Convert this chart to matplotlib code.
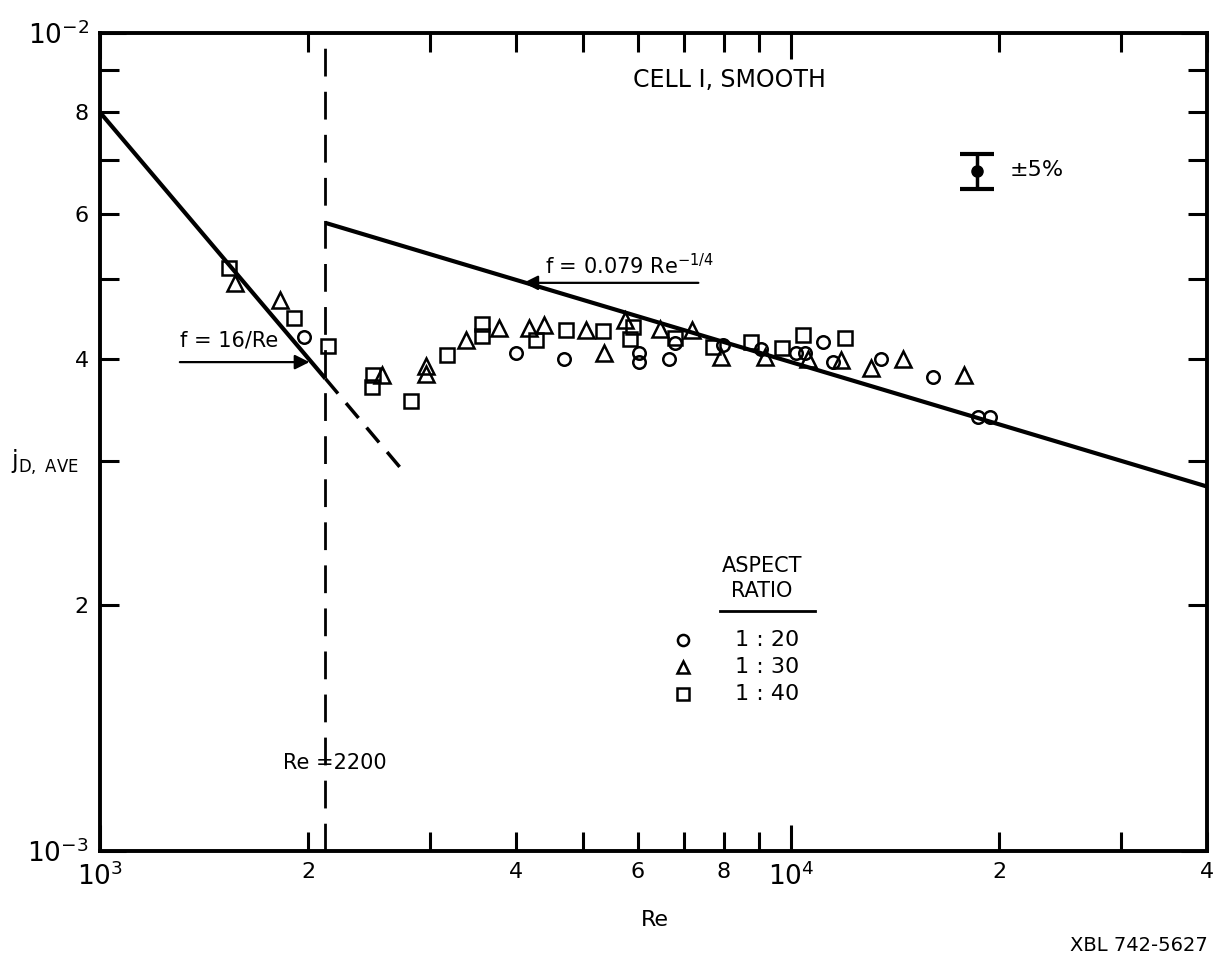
import matplotlib
matplotlib.use("Agg")
import matplotlib.pyplot as plt
from matplotlib.ticker import FixedLocator, FixedFormatter

plt.rcParams["font.family"] = ["DejaVu Sans"]
plt.rcParams["mathtext.fontset"] = "dejavusans"
plt.rcParams["lines.scale_dashes"] = False

# data (Re, j_D in units of 1e-3)
re_20 = [1976, 4000, 4700, 6020, 6020, 6670, 6800, 7980, 9050, 10170, 10480,
         11120, 11500, 13490, 16030, 18620, 19380]
jd_20 = [4.25, 4.06, 4.00, 4.06, 3.96, 4.00, 4.18, 4.16, 4.11, 4.06, 4.06,
         4.19, 3.96, 4.00, 3.80, 3.39, 3.39]

re_30 = [1566, 1825, 2561, 2964, 2964, 3385, 3777, 4174, 4386, 5043, 5355,
         5760, 6471, 7196, 7925, 9173, 10580, 11810, 13050, 14510, 17770]
jd_30 = [4.95, 4.72, 3.82, 3.92, 3.83, 4.21, 4.36, 4.36, 4.40, 4.33, 4.06,
         4.46, 4.35, 4.33, 4.02, 4.02, 4.00, 3.98, 3.89, 4.00, 3.82]

re_40 = [1535, 1911, 2140, 2486, 2477, 2820, 3178, 3570, 3570, 4272, 4719,
         5337, 5916, 5857, 6800, 7717, 8756, 9706, 10410, 11960]
jd_40 = [5.16, 4.48, 4.14, 3.82, 3.69, 3.55, 4.04, 4.41, 4.26, 4.21, 4.33,
         4.32, 4.37, 4.23, 4.24, 4.13, 4.19, 4.12, 4.27, 4.24]

# correlation lines
lam_re = [1000, 2120]
lam_jd = [8.0, 3.78]
lam_ext_re = [2120, 2750]
lam_ext_jd = [3.78, 2.91]
turb_re = [2120, 40000]
turb_jd = [5.86, 2.79]
re_crit = 2120  # where the Re=2200 line sits on the sheet

# +-5% error bar sample
err_re = 18600
err_jd = 6.78

x_minor = [2000, 3000, 4000, 5000, 6000, 7000, 8000, 9000, 20000, 30000, 40000]
x_minor_labels = ["2", "", "4", "", "6", "", "8", "", "2", "", "4"]
y_minor = [2, 3, 4, 5, 6, 7, 8, 9]
y_minor_labels = ["2", "", "4", "", "6", "", "8", ""]

fig = plt.figure(figsize=(12.16, 9.6), dpi=100)
ax = fig.add_axes([0.0822, 0.1135, 0.9104, 0.8521])
ax.set_xscale("log")
ax.set_yscale("log")
ax.set_xlim(1000, 40000)
ax.set_ylim(1.0, 10.0)

lw = 3.0
ax.plot(lam_re, lam_jd, color="black", lw=lw, solid_capstyle="butt")
ax.plot(lam_ext_re, lam_ext_jd, color="black", lw=2.5, dashes=(14, 9))
ax.plot(turb_re, turb_jd, color="black", lw=lw, solid_capstyle="butt")
ax.axvline(re_crit, color="black", lw=2.0, dashes=(20, 11))

mk = dict(linestyle="none", mfc="none", mec="black", mew=1.8)
ax.plot(re_20, jd_20, marker="o", ms=9, **mk)
ax.plot(re_30, jd_30, marker="^", ms=11, **mk)
ax.plot(re_40, jd_40, marker="s", ms=10, **mk)

ax.errorbar([err_re], [err_jd], yerr=[[err_jd * 0.05], [err_jd * 0.05]],
            fmt="o", color="black", ms=8, elinewidth=2.5, capsize=12, capthick=3)

# arrows + labels of the correlations
ax.annotate("", xy=(4100, 4.95), xytext=(7345, 4.95),
            arrowprops=dict(arrowstyle="-|>", color="black", lw=1.6,
                            mutation_scale=22, shrinkA=0, shrinkB=0))
ax.text(0.402, 0.716, r"f = 0.079 Re$^{-1/4}$", transform=ax.transAxes,
        fontsize=15, va="center", ha="left")
ax.annotate("", xy=(2010, 3.96), xytext=(1305, 3.96),
            arrowprops=dict(arrowstyle="-|>", color="black", lw=1.6,
                            mutation_scale=22, shrinkA=0, shrinkB=0))
ax.text(0.072, 0.624, "f = 16/Re", transform=ax.transAxes,
        fontsize=15, va="center", ha="left")
ax.text(0.165, 0.108, "Re =2200", transform=ax.transAxes,
        fontsize=15, va="center", ha="left")

ax.text(0.569, 0.9425, "CELL I, SMOOTH", transform=ax.transAxes,
        fontsize=17, va="center", ha="center")
ax.text(0.822, 0.8325, "±5%", transform=ax.transAxes,
        fontsize=16, va="center", ha="left")

# aspect ratio key
ax.text(0.598, 0.3484, "ASPECT", transform=ax.transAxes,
        fontsize=15, va="center", ha="center")
ax.text(0.598, 0.3178, "RATIO", transform=ax.transAxes,
        fontsize=15, va="center", ha="center")
ax.plot([0.560, 0.646], [0.2934, 0.2934], transform=ax.transAxes,
        color="black", lw=2)
key = [("o", "1 : 20", 0.2579, 8), ("^", "1 : 30", 0.2249, 9), ("s", "1 : 40", 0.1919, 8)]
for m, lab, fy, s in key:
    ax.plot([0.5266], [fy], marker=m, ms=s, transform=ax.transAxes, **mk)
    ax.text(0.5736, fy, lab, transform=ax.transAxes, fontsize=16,
            va="center", ha="left")

# axes styling
for sp in ax.spines.values():
    sp.set_linewidth(2.8)
ax.set_xticks([1000, 10000], labels=[r"$10^3$", r"$10^4$"])
ax.xaxis.set_minor_locator(FixedLocator(x_minor))
ax.xaxis.set_minor_formatter(FixedFormatter(x_minor_labels))
ax.set_yticks([1, 10], labels=[r"$10^{-3}$", r"$10^{-2}$"])
ax.yaxis.set_minor_locator(FixedLocator(y_minor))
ax.yaxis.set_minor_formatter(FixedFormatter(y_minor_labels))
ax.tick_params(which="both", direction="in", top=True, right=True,
               width=2.2, colors="black")
ax.tick_params(which="major", length=19, labelsize=19, pad=8)
ax.tick_params(which="minor", length=14, labelsize=16, pad=8)

ax.text(-0.05, 0.4755, r"j$_{\mathregular{D,\ AVE}}$", transform=ax.transAxes,
        fontsize=17, va="center", ha="center")
ax.text(0.501, -0.084, "Re", transform=ax.transAxes, fontsize=16,
        va="center", ha="center")
fig.text(0.993, 0.0156, "XBL 742-5627", fontsize=14, ha="right", va="center")

fig.savefig("out.png", dpi=100)
